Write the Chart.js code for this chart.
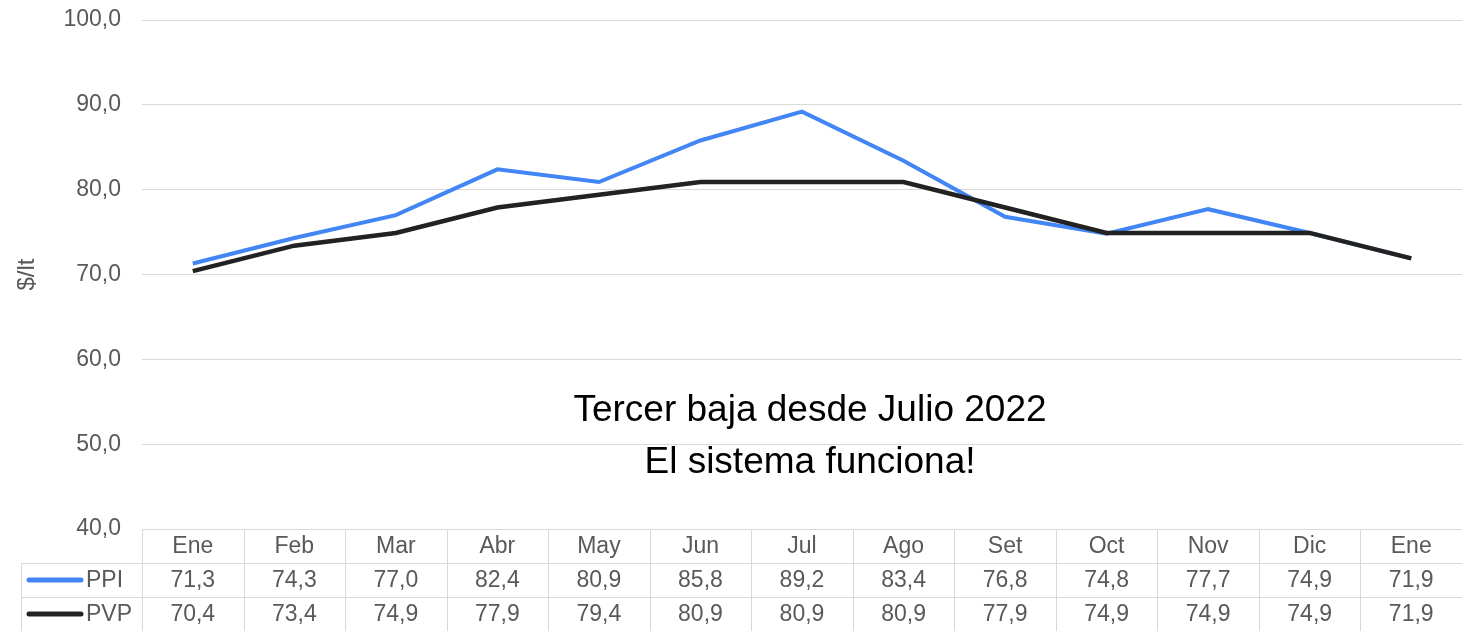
<!DOCTYPE html>
<html>
<head>
<meta charset="utf-8">
<script src="https://cdn.jsdelivr.net/npm/chart.js@4/dist/chart.umd.min.js"></script>
<style>
    body { margin: 0; background: #ffffff; }
    #wrap { width: 1462px; height: 631px; }
</style>
</head>
<body>
<div id="wrap"><canvas id="precios" width="1462" height="631"></canvas></div>
<script>
const meses = ['Ene','Feb','Mar','Abr','May','Jun','Jul','Ago','Set','Oct','Nov','Dic','Ene'];
const ppi = [71.3, 74.3, 77.0, 82.4, 80.9, 85.8, 89.2, 83.4, 76.8, 74.8, 77.7, 74.9, 71.9];
const pvp = [70.4, 73.4, 74.9, 77.9, 79.4, 80.9, 80.9, 80.9, 77.9, 74.9, 74.9, 74.9, 71.9];
const nota = ['Tercer baja desde Julio 2022', 'El sistema funciona!'];

const gris = '#595959';
const linea = '#d9d9d9';
const azul = '#4285f4';
const negro = '#222222';
const fuente = '"Liberation Sans", Arial, sans-serif';

function coma(v) {
    return v.toFixed(1).replace('.', ',');
}

// tabla de datos debajo del grafico, como en Excel
const tablaDatos = {
    id: 'tablaDatos',
    afterDraw(chart) {
        const ctx = chart.ctx;
        const x = chart.scales.x;
        const area = chart.chartArea;
        const n = meses.length;
        const w = x.width / n;
        const filaH = 34;
        const top = area.bottom;
        const izq = 21;

        ctx.save();
        ctx.strokeStyle = linea;
        ctx.lineWidth = 1;
        ctx.beginPath();
        // horizontales
        ctx.moveTo(area.left, top + 0.5);
        ctx.lineTo(area.right, top + 0.5);
        ctx.moveTo(izq, top + filaH + 0.5);
        ctx.lineTo(area.right, top + filaH + 0.5);
        ctx.moveTo(izq, top + filaH * 2 + 0.5);
        ctx.lineTo(area.right, top + filaH * 2 + 0.5);
        // verticales
        ctx.moveTo(izq + 0.5, top + filaH);
        ctx.lineTo(izq + 0.5, top + filaH * 3);
        for (let i = 0; i < n; i++) {
            const bx = Math.round(x.getPixelForValue(i) - w / 2) + 0.5;
            ctx.moveTo(bx, top);
            ctx.lineTo(bx, top + filaH * 3);
        }
        ctx.stroke();

        ctx.fillStyle = gris;
        ctx.font = '23px ' + fuente;
        ctx.textAlign = 'center';
        ctx.textBaseline = 'middle';
        for (let i = 0; i < n; i++) {
            const cx = x.getPixelForValue(i);
            ctx.fillText(meses[i], cx, top + filaH / 2 + 1);
            ctx.fillText(coma(ppi[i]), cx, top + filaH * 1.5 + 1);
            ctx.fillText(coma(pvp[i]), cx, top + filaH * 2.5 + 1);
        }

        // leyenda en la tabla
        const series = [['PPI', azul], ['PVP', negro]];
        series.forEach(function(s, k) {
            const cy = top + filaH * (1.5 + k);
            ctx.strokeStyle = s[1];
            ctx.lineWidth = 5;
            ctx.lineCap = 'round';
            ctx.beginPath();
            ctx.moveTo(29, cy);
            ctx.lineTo(81, cy);
            ctx.stroke();
            ctx.fillStyle = gris;
            ctx.textAlign = 'left';
            ctx.fillText(s[0], 86, cy + 1);
        });

        // nota
        ctx.fillStyle = '#000000';
        ctx.font = '37px ' + fuente;
        ctx.textAlign = 'center';
        const y = chart.scales.y;
        ctx.fillText(nota[0], 810, y.getPixelForValue(53.95));
        ctx.fillText(nota[1], 810, y.getPixelForValue(47.75));
        ctx.restore();
    }
};

const ctx = document.querySelector('#precios');
const grafico = new Chart(ctx, {
    type: 'line',
    data: {
        labels: meses,
        datasets: [{
            label: 'PPI',
            data: ppi,
            borderColor: azul,
            borderWidth: 4,
            pointRadius: 0,
            tension: 0,
            order: 1
        }, {
            label: 'PVP',
            data: pvp,
            borderColor: negro,
            borderWidth: 4.5,
            pointRadius: 0,
            tension: 0,
            order: 0
        }]
    },
    options: {
        responsive: false,
        animation: false,
        layout: {
            padding: { top: 20, bottom: 102, right: 0, left: 0 }
        },
        plugins: {
            legend: { display: false },
            tooltip: { enabled: false }
        },
        scales: {
            x: {
                display: false,
                offset: true
            },
            y: {
                min: 40,
                max: 100,
                border: { display: false },
                grid: { color: linea, drawTicks: false },
                ticks: {
                    stepSize: 10,
                    padding: 21,
                    color: gris,
                    font: { family: fuente, size: 23 },
                    callback: function(v) { return coma(v); }
                },
                title: {
                    display: true,
                    text: '$/lt',
                    color: gris,
                    padding: { top: 13, bottom: 0 },
                    font: { family: fuente, size: 24 }
                },
                afterFit: function(scale) {
                    scale.width = 142;
                    scale.paddingTop = 0;
                    scale.paddingBottom = 0;
                }
            }
        }
    },
    plugins: [tablaDatos]
});
</script>
</body>
</html>
